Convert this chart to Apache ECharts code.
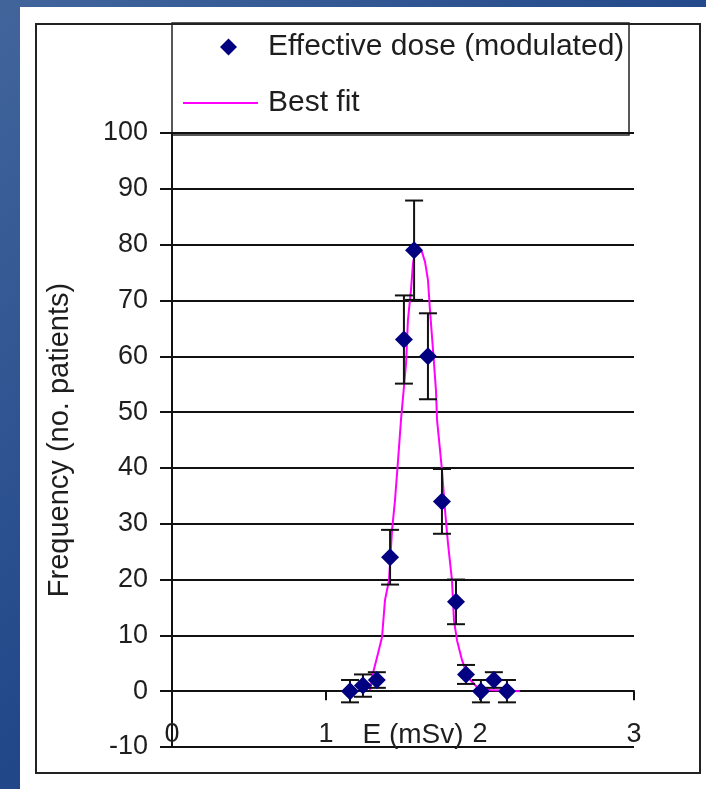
<!DOCTYPE html>
<html>
<head>
<meta charset="utf-8">
<script src="https://cdn.jsdelivr.net/npm/echarts@6/dist/echarts.min.js"></script>
<style>
  html, body { margin: 0; padding: 0; }
  body { width: 706px; height: 789px; position: relative; overflow: hidden;
         background: linear-gradient(135deg, #41659b 0%, #23488a 50%, #173a80 100%); }
  #paper { position: absolute; left: 20px; top: 7px; width: 686px; height: 782px; background: #fff; }
  #frame { position: absolute; left: 35px; top: 23px; width: 666px; height: 751px;
           border: 2px solid #222; box-sizing: border-box; }
  #main { position: absolute; left: 0; top: 0; width: 706px; height: 789px; }
</style>
</head>
<body>
<div id="paper"></div>
<div id="frame"></div>
<div id="main"></div>
<script>
// measured points (dose bins, number of patients, error bar half-length)
var doseX = [1.156, 1.24, 1.33, 1.416, 1.506, 1.572, 1.662, 1.753, 1.844, 1.909, 2.006, 2.09, 2.175];
var freq = [0, 1, 2, 24, 63, 79, 60, 34, 16, 3, 0, 2, 0];
var errBar = [2, 2, 1.4, 4.9, 7.9, 8.9, 7.7, 5.8, 4, 1.7, 2, 1.4, 2];

// best fit curve
var fitX = [1.286, 1.305, 1.338, 1.364, 1.383, 1.409, 1.429, 1.448, 1.468, 1.487, 1.52, 1.532, 1.552, 1.565, 1.584, 1.604, 1.623, 1.643, 1.662, 1.675, 1.695, 1.714, 1.721, 1.734, 1.753, 1.773, 1.792, 1.818, 1.831, 1.851, 1.883, 1.922, 1.981, 2.065, 2.26];
var fitY = [0.2, 3.2, 6.8, 9.7, 16.3, 19.9, 28.9, 34.2, 41.4, 48.6, 58.8, 66.5, 71.9, 76.7, 79.4, 79.6, 78.7, 76.9, 73.7, 68.3, 61.1, 53.9, 48.6, 45, 39.6, 32.4, 26.5, 19.9, 12.7, 9.1, 5.6, 2.5, 0.7, 0.2, 0];

var xTicks = [0, 3, 1];   // min, max, interval
var yTicks = [-10, 100, 10];

var pts = doseX.map(function (x, i) { return [x, freq[i]]; });
var bars = doseX.map(function (x, i) { return [x, freq[i] - errBar[i], freq[i] + errBar[i]]; });
var fit = fitX.map(function (x, i) { return [x, fitY[i]]; });

var myChart = echarts.init(document.getElementById('main'));
var txt = '#1e1e1e';
var font = 'Liberation Sans, Arial, sans-serif';

option = {
    animation: false,
    textStyle: { fontFamily: font },
    grid: { left: 172, right: 72, top: 133, bottom: 42, containLabel: false, outerBoundsMode: 'none' },
    legend: [{
        left: 220,
        top: 32,
        padding: 0,
        itemWidth: 17,
        itemHeight: 17,
        textStyle: { fontSize: 30, color: txt, lineHeight: 30, fontFamily: font, padding: [0, 0, 0, 26] },
        data: [{ name: 'Effective dose (modulated)', icon: 'diamond' }]
    }, {
        left: 183,
        top: 88,
        padding: 0,
        itemWidth: 75,
        itemHeight: 2,
        textStyle: { fontSize: 30, color: txt, lineHeight: 30, fontFamily: font, padding: [0, 0, 0, 5] },
        data: [{ name: 'Best fit', icon: 'rect' }]
    }],
    graphic: [{
        type: 'rect',
        shape: { x: 172, y: 23, width: 457, height: 112 },
        style: { fill: 'none', stroke: '#222', lineWidth: 1.5 }
    }],
    xAxis: {
        type: 'value',
        min: xTicks[0], max: xTicks[1], interval: xTicks[2],
        name: 'E (mSv)',
        nameLocation: 'middle',
        nameGap: -26,
        nameMoveOverlap: false,
        nameTextStyle: { fontSize: 28, color: txt, verticalAlign: 'top', padding: [0, 0, 0, 20] },
        axisLine: { onZero: true, lineStyle: { color: '#111', width: 2 } },
        axisTick: { show: true, length: 9, lineStyle: { color: '#111', width: 2 } },
        axisLabel: { fontSize: 27, color: txt, margin: -26 },
        splitLine: { show: false }
    },
    yAxis: {
        type: 'value',
        min: yTicks[0], max: yTicks[1], interval: yTicks[2],
        name: 'Frequency (no. patients)',
        nameLocation: 'middle',
        nameGap: 98,
        nameTextStyle: { fontSize: 29, color: txt },
        axisLine: { onZero: false, lineStyle: { color: '#111', width: 2 } },
        axisTick: { show: true, length: 12, lineStyle: { color: '#111', width: 2 } },
        axisLabel: { fontSize: 27, color: txt, margin: 24 },
        splitLine: { show: true, lineStyle: { color: '#111', width: 2 } }
    },
    series: [
        {
            name: 'Best fit',
            type: 'line',
            data: fit,
            showSymbol: false,
            symbol: 'none',
            color: '#ff00ff',
            lineStyle: { color: '#ff00ff', width: 2 },
            z: 3
        },
        {
            name: 'errors',
            type: 'custom',
            data: bars,
            z: 4,
            renderItem: function (params, api) {
                var lo = api.coord([api.value(0), api.value(1)]);
                var hi = api.coord([api.value(0), api.value(2)]);
                var w = 9;
                var st = { stroke: '#111', lineWidth: 2 };
                return {
                    type: 'group',
                    children: [
                        { type: 'line', shape: { x1: lo[0], y1: lo[1], x2: hi[0], y2: hi[1] }, style: st },
                        { type: 'line', shape: { x1: lo[0] - w, y1: lo[1], x2: lo[0] + w, y2: lo[1] }, style: st },
                        { type: 'line', shape: { x1: hi[0] - w, y1: hi[1], x2: hi[0] + w, y2: hi[1] }, style: st }
                    ]
                };
            }
        },
        {
            name: 'Effective dose (modulated)',
            type: 'scatter',
            data: pts,
            symbol: 'diamond',
            symbolSize: 18,
            color: '#000080',
            itemStyle: { color: '#000080', opacity: 1 },
            z: 5
        }
    ]
};

myChart.setOption(option);
window.onresize = myChart.resize;
</script>
</body>
</html>
